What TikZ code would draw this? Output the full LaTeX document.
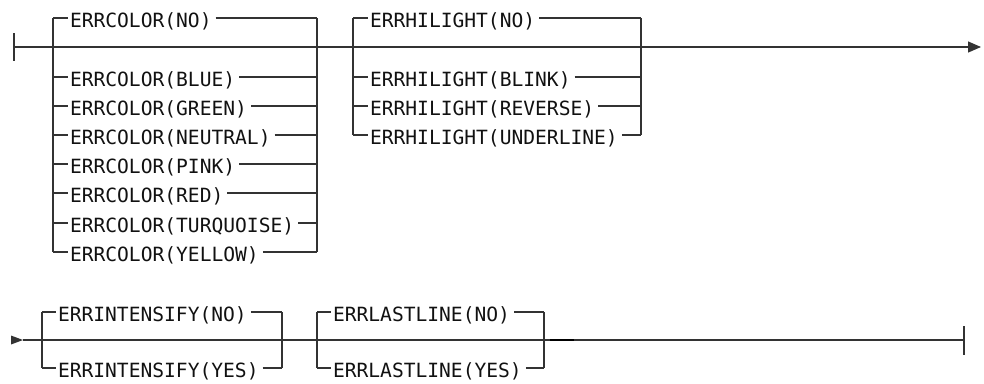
\documentclass[tikz,border=0pt]{standalone}
\usepackage{fontspec}
\newfontfamily\railfont{DejaVu Sans Mono}
\usetikzlibrary{arrows.meta}
\definecolor{railline}{HTML}{333333}
\definecolor{railtext}{HTML}{111111}
\begin{document}
\begin{tikzpicture}[x=1pt,y=-1pt,
  rail/.style={draw=railline,line width=1.2pt},
  opt/.style={anchor=base west,inner sep=0pt,outer sep=0pt,text=railtext,font=\railfont\fontsize{19.6}{20}\selectfont},
  tick/.style={draw=railline,line width=1.5pt}]
\useasboundingbox (0,0) rectangle (984,383);
% ---------- row 1 ----------
\coordinate (r1s) at (14,47);
\coordinate (r1e) at (981,47);
\draw[tick] (14,33) -- (14,61);
\draw[rail,-{Triangle[length=13pt,width=11pt]}] (r1s) -- (r1e);
% ERRCOLOR group
\draw[rail] (53,18) -- (53,252);
\draw[rail] (317,18) -- (317,252);
\foreach \n/\y/\t in {cno/18/NO,cblue/77/BLUE,cgreen/106/GREEN,cneu/135/NEUTRAL,cpink/164/PINK,cred/193/RED,cturq/223/TURQUOISE,cyel/252/YELLOW}{
  \coordinate (\n l) at (53,\y);
  \coordinate (\n r) at (317,\y);
  \node[opt] (\n) at (70,\y+9.5) {ERRCOLOR(\t)};
  \draw[rail] (\n l) -- ([xshift=-2pt]\n.west |- \n l);
  \draw[rail] ([xshift=4pt]\n.east |- \n r) -- (\n r);
}
% ERRHILIGHT group
\draw[rail] (353,18) -- (353,135);
\draw[rail] (641,18) -- (641,135);
\foreach \n/\y/\t in {hno/18/NO,hblink/77/BLINK,hrev/106/REVERSE,hund/135/UNDERLINE}{
  \coordinate (\n l) at (353,\y);
  \coordinate (\n r) at (641,\y);
  \node[opt] (\n) at (370,\y+9.5) {ERRHILIGHT(\t)};
  \draw[rail] (\n l) -- ([xshift=-2pt]\n.west |- \n l);
  \draw[rail] ([xshift=4pt]\n.east |- \n r) -- (\n r);
}
% ---------- row 2 ----------
\coordinate (r2s) at (23,340);
\coordinate (r2e) at (964,340);
\fill[railline] (r2s) -- ++(-12,-4.5) -- ++(0,9) -- cycle;
\draw[rail] (r2s) -- (r2e);
\draw[tick] (964,326) -- (964,355);
\draw[draw=black,line width=2.4pt] (550,340) -- (574,340);
% ERRINTENSIFY group
\draw[rail] (42,312) -- (42,368);
\draw[rail] (282,312) -- (282,368);
\foreach \n/\y/\t in {ino/312/NO,iyes/368/YES}{
  \coordinate (\n l) at (42,\y);
  \coordinate (\n r) at (282,\y);
  \node[opt] (\n) at (58,\y+9.5) {ERRINTENSIFY(\t)};
  \draw[rail] (\n l) -- ([xshift=-2pt]\n.west |- \n l);
  \draw[rail] ([xshift=4pt]\n.east |- \n r) -- (\n r);
}
% ERRLASTLINE group
\draw[rail] (317,312) -- (317,368);
\draw[rail] (544,312) -- (544,368);
\foreach \n/\y/\t in {lno/312/NO,lyes/368/YES}{
  \coordinate (\n l) at (317,\y);
  \coordinate (\n r) at (544,\y);
  \node[opt] (\n) at (333,\y+9.5) {ERRLASTLINE(\t)};
  \draw[rail] (\n l) -- ([xshift=-2pt]\n.west |- \n l);
  \draw[rail] ([xshift=4pt]\n.east |- \n r) -- (\n r);
}
\end{tikzpicture}
\end{document}
